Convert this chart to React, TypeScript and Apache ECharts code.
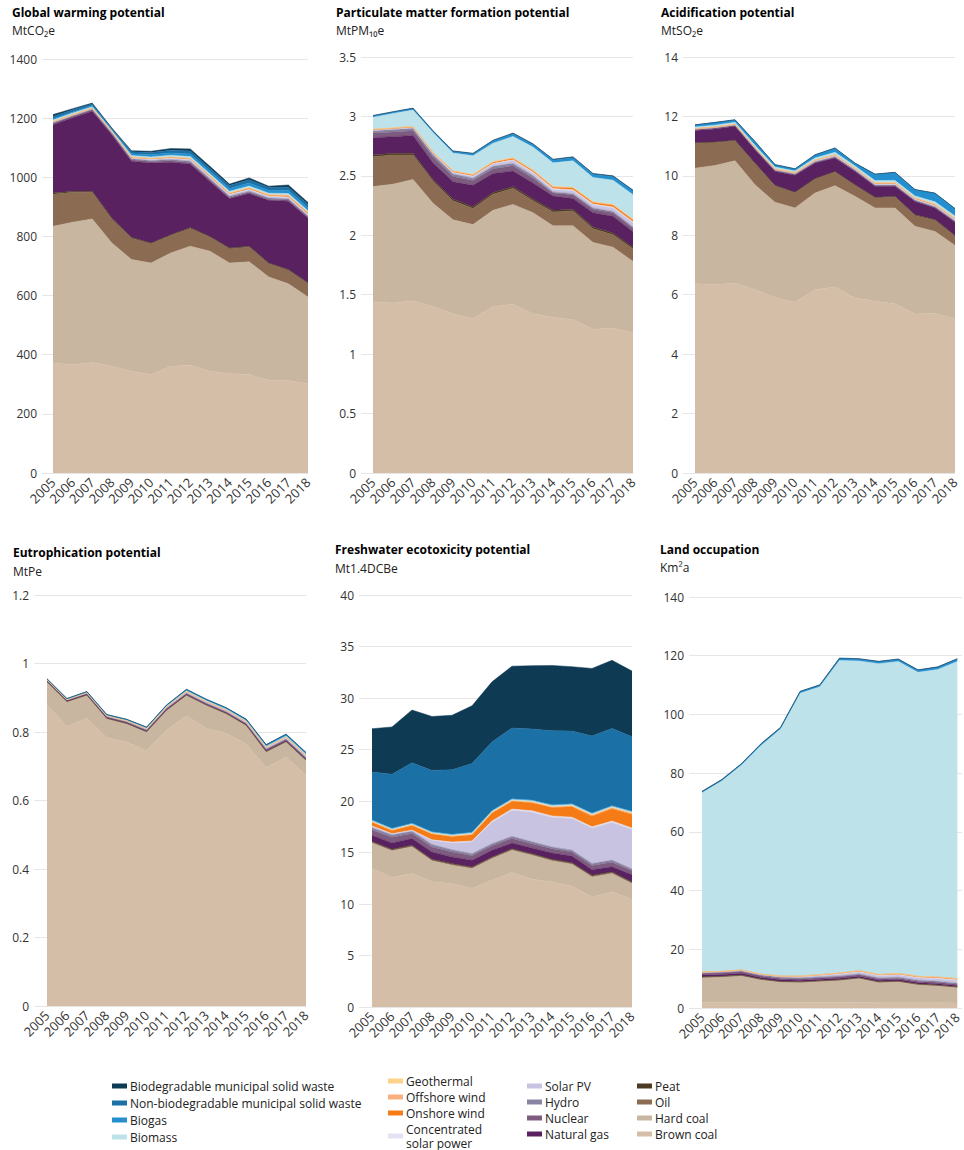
import React, { useEffect, useRef } from "react";
import * as echarts from "echarts";

const years = ["2005","2006","2007","2008","2009","2010","2011","2012","2013","2014","2015","2016","2017","2018"];

const sourceNames = ["Brown coal","Hard coal","Oil","Peat","Natural gas","Nuclear","Hydro","Solar PV","Concentrated solar power","Onshore wind","Offshore wind","Geothermal","Biomass","Biogas","Non-biodegradable municipal solid waste","Biodegradable municipal solid waste"];
const sourceColors = ["#d5bea8","#c9b6a1","#8b6c52","#4d3a22","#5a2161","#7d5c80","#8a84a3","#c8c3e0","#e4e1f0","#f47b16","#f8b07e","#fbd48a","#bde2ea","#238fcf","#1b70a6","#0e3a54"];

// Global warming potential (MtCO2e)
const gwpBrownCoal = [372,366,374,361,344,333,361,364,344,336,333,313,313,302];
const gwpHardCoal = [462,482,485,417,378,377,383,403,406,374,381,350,327,293];
const gwpOil = [109,101,90,80,72,65,59,60,47,48,50,45,46,46];
const gwpPeat = [4,4,4,4,3,3,3,3,3,3,3,2,2,2];
const gwpGas = [231,248,270,282,257,270,245,215,186,167,178,212,231,219];
const gwpNuclear = [5,5,5,4,5,5,5,5,5,4,4,4,4,4];
const gwpHydro = [3,3,3,3,4,4,4,4,4,4,4,4,4,3];
const gwpSolarPV = [0.5,0.7,1,1.5,2,3,4,5,5,5,5,5,5,5];
const gwpCSP = [0.1,0.1,0.2,0.3,0.5,0.8,1,1.2,1.3,1.3,1.3,1.3,1.3,1.3];
const gwpOnshore = [1.5,1.6,1.8,1.8,2,2.2,2.5,2.8,3,3,3.5,3.3,3.8,3.8];
const gwpOffshore = [0.1,0.1,0.1,0.2,0.3,0.4,0.5,0.6,0.8,1,1.2,1.3,1.5,1.6];
const gwpGeothermal = [0.5,0.5,0.5,0.5,0.5,0.5,0.5,0.5,0.5,0.5,0.5,0.5,0.5,0.5];
const gwpBiomass = [5,5,4,2.5,5,5,6,6,6,6,6,5,6,6];
const gwpBiogas = [4,4,4,3.5,6,7,8,9,9,9,10,9,10,10];
const gwpNonBioMSW = [8,7,6,3,7,8,9,10,10,10,11,10,11,11];
const gwpBioMSW = [6.3,4,2.4,2.7,3.7,4.1,5.5,6.9,6.4,5.2,6.5,4.6,7.9,6.8];

// Particulate matter formation potential (MtPM10e)
const pmBrownCoal = [1.44,1.43,1.45,1.40,1.34,1.30,1.40,1.42,1.34,1.31,1.29,1.21,1.22,1.18];
const pmHardCoal = [0.97,1.00,1.02,0.87,0.79,0.79,0.81,0.84,0.85,0.77,0.79,0.73,0.68,0.60];
const pmOil = [0.25,0.245,0.205,0.185,0.16,0.135,0.135,0.135,0.10,0.115,0.125,0.115,0.105,0.105];
const pmPeat = [0.015,0.015,0.015,0.015,0.015,0.015,0.015,0.015,0.015,0.015,0.015,0.015,0.015,0.015];
const pmGas = [0.145,0.14,0.15,0.14,0.145,0.18,0.16,0.13,0.135,0.12,0.09,0.12,0.14,0.13];
const pmNuclear = [0.04,0.04,0.04,0.05,0.045,0.04,0.04,0.045,0.04,0.025,0.03,0.03,0.03,0.03];
const pmHydro = [0.02,0.02,0.02,0.02,0.02,0.02,0.02,0.02,0.02,0.01,0.01,0.01,0.01,0.01];
const pmSolarPV = [0.003,0.004,0.005,0.008,0.012,0.015,0.02,0.025,0.025,0.02,0.025,0.025,0.03,0.035];
const pmCSP = [0.001,0.001,0.001,0.002,0.003,0.004,0.005,0.006,0.007,0.008,0.008,0.008,0.008,0.008];
const pmOnshore = [0.005,0.006,0.007,0.007,0.008,0.009,0.01,0.011,0.012,0.012,0.014,0.013,0.015,0.015];
const pmOffshore = [0.001,0.001,0.001,0.002,0.002,0.003,0.003,0.004,0.004,0.005,0.005,0.005,0.006,0.006];
const pmGeothermal = [0.002,0.002,0.002,0.002,0.002,0.002,0.002,0.002,0.002,0.002,0.002,0.002,0.002,0.002];
const pmBiomass = [0.102,0.121,0.138,0.164,0.15,0.157,0.155,0.179,0.192,0.198,0.223,0.204,0.203,0.206];
const pmBiogas = [0.008,0.009,0.01,0.01,0.012,0.014,0.017,0.02,0.02,0.022,0.025,0.025,0.028,0.03];
const pmNonBioMSW = [0.004,0.004,0.004,0.003,0.004,0.004,0.005,0.005,0.005,0.005,0.005,0.005,0.005,0.005];
const pmBioMSW = [0.002,0.002,0.002,0.002,0.002,0.002,0.003,0.003,0.003,0.003,0.003,0.003,0.003,0.003];

// Acidification potential (MtSO2e)
const apBrownCoal = [6.37,6.34,6.39,6.17,5.91,5.75,6.17,6.26,5.89,5.78,5.70,5.35,5.38,5.18];
const apHardCoal = [3.89,4.01,4.12,3.53,3.20,3.17,3.25,3.41,3.42,3.14,3.22,2.95,2.75,2.48];
const apOil = [0.83,0.77,0.67,0.71,0.55,0.51,0.47,0.46,0.37,0.34,0.37,0.37,0.38,0.31];
const apPeat = [0.02,0.02,0.02,0.02,0.02,0.02,0.02,0.02,0.02,0.02,0.02,0.02,0.02,0.02];
const apGas = [0.42,0.44,0.47,0.45,0.47,0.57,0.52,0.45,0.45,0.37,0.34,0.45,0.39,0.45];
const apNuclear = [0.03,0.03,0.03,0.03,0.03,0.03,0.03,0.03,0.03,0.025,0.025,0.025,0.025,0.025];
const apHydro = [0.015,0.015,0.015,0.015,0.015,0.015,0.015,0.015,0.015,0.015,0.015,0.015,0.015,0.015];
const apSolarPV = [0.003,0.004,0.006,0.01,0.015,0.02,0.025,0.03,0.03,0.03,0.03,0.03,0.035,0.04];
const apCSP = [0.001,0.001,0.002,0.003,0.005,0.006,0.008,0.009,0.01,0.01,0.01,0.01,0.01,0.01];
const apOnshore = [0.01,0.011,0.012,0.012,0.013,0.015,0.017,0.02,0.02,0.02,0.025,0.023,0.027,0.027];
const apOffshore = [0.001,0.001,0.001,0.002,0.002,0.003,0.003,0.004,0.005,0.006,0.007,0.008,0.009,0.01];
const apGeothermal = [0.005,0.005,0.005,0.005,0.005,0.005,0.005,0.005,0.005,0.005,0.005,0.005,0.005,0.005];
const apBiomass = [0.05,0.06,0.06,0.07,0.06,0.05,0.07,0.08,0.07,0.08,0.08,0.07,0.08,0.08];
const apBiogas = [0.06,0.078,0.074,0.118,0.07,0.06,0.092,0.132,0.08,0.204,0.258,0.199,0.279,0.233];
const apNonBioMSW = [0.01,0.01,0.01,0.01,0.01,0.01,0.01,0.01,0.01,0.01,0.01,0.01,0.01,0.01];
const apBioMSW = [0.005,0.005,0.005,0.005,0.005,0.005,0.005,0.005,0.005,0.005,0.005,0.005,0.005,0.005];

// Eutrophication potential (MtPe)
const epBrownCoal = [0.879,0.816,0.840,0.783,0.771,0.745,0.806,0.847,0.811,0.796,0.765,0.696,0.726,0.674];
const epHardCoal = [0.067,0.072,0.067,0.056,0.053,0.055,0.057,0.06,0.067,0.057,0.054,0.046,0.045,0.043];
const epOil = [0.001,0.001,0.001,0.001,0.001,0.001,0.001,0.001,0.001,0.001,0.001,0.001,0.001,0.001];
const epPeat = [0.0003,0.0003,0.0003,0.0003,0.0003,0.0003,0.0003,0.0003,0.0003,0.0003,0.0003,0.0003,0.0003,0.0003];
const epGas = [0.002,0.002,0.002,0.002,0.002,0.002,0.002,0.002,0.002,0.002,0.002,0.003,0.003,0.003];
const epNuclear = [0.0015,0.0015,0.002,0.002,0.002,0.002,0.002,0.002,0.002,0.002,0.002,0.003,0.003,0.003];
const epHydro = [0.001,0.001,0.001,0.001,0.001,0.001,0.001,0.001,0.001,0.001,0.001,0.001,0.001,0.001];
const epSolarPV = [0.0003,0.0004,0.0006,0.001,0.0015,0.002,0.0025,0.003,0.003,0.003,0.003,0.003,0.0035,0.004];
const epCSP = [0.0001,0.0001,0.0002,0.0003,0.0004,0.0005,0.0006,0.0007,0.0008,0.0008,0.0008,0.0008,0.0008,0.0008];
const epOnshore = [0.0005,0.0005,0.0006,0.0006,0.0007,0.0008,0.0009,0.001,0.001,0.001,0.0012,0.0012,0.0014,0.0014];
const epOffshore = [0.0001,0.0001,0.0001,0.0001,0.0002,0.0002,0.0002,0.0003,0.0003,0.0004,0.0004,0.0005,0.0005,0.0006];
const epGeothermal = [0.0002,0.0002,0.0002,0.0002,0.0002,0.0002,0.0002,0.0002,0.0002,0.0002,0.0002,0.0002,0.0002,0.0002];
const epBiomass = [0.0008,0.0008,0.001,0.0012,0.0012,0.0012,0.0015,0.002,0.002,0.002,0.002,0.002,0.0025,0.0025];
const epBiogas = [0.0006,0.0008,0.001,0.0012,0.0015,0.002,0.0025,0.003,0.003,0.003,0.0035,0.004,0.0045,0.0045];
const epNonBioMSW = [0.0008,0.0008,0.0008,0.0008,0.0008,0.0008,0.0008,0.0008,0.0008,0.0008,0.0008,0.0008,0.0008,0.0008];
const epBioMSW = [0.0004,0.0004,0.0004,0.0004,0.0004,0.0004,0.0004,0.0004,0.0004,0.0004,0.0004,0.0004,0.0004,0.0004];

// Freshwater ecotoxicity potential (Mt1.4DCBe)
const feBrownCoal = [13.44,12.57,12.96,12.15,11.98,11.50,12.31,13.05,12.40,12.15,11.72,10.69,11.17,10.46];
const feHardCoal = [2.49,2.59,2.59,2.04,1.79,1.94,2.10,2.17,2.34,2.04,2.14,1.94,1.79,1.52];
const feOil = [0.1,0.1,0.1,0.1,0.1,0.1,0.1,0.1,0.1,0.1,0.1,0.1,0.1,0.1];
const fePeat = [0.05,0.05,0.05,0.05,0.05,0.05,0.05,0.05,0.05,0.05,0.05,0.05,0.05,0.05];
const feGas = [0.6,0.62,0.65,0.7,0.65,0.65,0.65,0.55,0.55,0.6,0.65,0.55,0.5,0.7];
const feNuclear = [0.5,0.55,0.5,0.5,0.48,0.45,0.45,0.45,0.42,0.42,0.4,0.42,0.45,0.4];
const feHydro = [0.22,0.24,0.22,0.24,0.22,0.2,0.2,0.2,0.18,0.18,0.17,0.18,0.2,0.18];
const feSolarPV = [0.15,0.08,0.07,0.4,0.66,1.13,2.08,2.52,2.87,2.87,3.06,3.42,3.65,3.82];
const feCSP = [0.02,0.02,0.03,0.05,0.08,0.1,0.12,0.13,0.14,0.14,0.14,0.14,0.14,0.14];
const feOnshore = [0.39,0.33,0.48,0.58,0.55,0.61,0.78,0.75,0.78,0.81,1.01,1.04,1.19,1.32];
const feOffshore = [0.01,0.01,0.01,0.02,0.03,0.04,0.05,0.06,0.07,0.08,0.1,0.11,0.12,0.13];
const feGeothermal = [0.02,0.02,0.02,0.02,0.02,0.02,0.02,0.02,0.02,0.02,0.02,0.02,0.02,0.02];
const feBiomass = [0.12,0.12,0.12,0.12,0.12,0.12,0.12,0.12,0.12,0.12,0.12,0.12,0.12,0.12];
const feBiogas = [0.05,0.05,0.05,0.05,0.05,0.05,0.05,0.05,0.05,0.05,0.05,0.05,0.05,0.05];
const feNonBioMSW = [4.65,5.24,5.86,5.95,6.26,6.67,6.66,6.87,6.90,7.18,7.06,7.47,7.50,7.23];
const feBioMSW = [4.21,4.60,5.12,5.24,5.28,5.61,5.83,6.0,6.15,6.35,6.25,6.57,6.61,6.38];

// Land occupation (Km2a)
const loBrownCoal = [2.0,2.0,2.0,1.9,1.9,1.9,1.9,1.9,1.9,1.8,1.8,1.8,1.8,1.7];
const loHardCoal = [8.4,8.6,9.0,7.75,6.96,6.84,7.18,7.52,8.2,6.94,7.17,6.15,5.8,5.3];
const loOil = [0.1,0.1,0.1,0.1,0.1,0.1,0.1,0.1,0.1,0.1,0.1,0.1,0.1,0.1];
const loPeat = [0.1,0.1,0.1,0.1,0.1,0.1,0.1,0.1,0.1,0.1,0.1,0.1,0.1,0.1];
const loGas = [0.6,0.6,0.6,0.55,0.55,0.5,0.5,0.5,0.5,0.5,0.5,0.5,0.5,0.45];
const loNuclear = [0.6,0.6,0.6,0.55,0.55,0.55,0.5,0.5,0.5,0.5,0.5,0.5,0.5,0.45];
const loHydro = [0.3,0.3,0.3,0.3,0.3,0.3,0.3,0.3,0.3,0.3,0.3,0.3,0.3,0.3];
const loSolarPV = [0.05,0.06,0.08,0.12,0.2,0.3,0.45,0.6,0.7,0.75,0.8,0.85,0.9,1.0];
const loCSP = [0.01,0.01,0.02,0.03,0.05,0.08,0.1,0.12,0.14,0.15,0.16,0.17,0.18,0.2];
const loOnshore = [0.1,0.1,0.12,0.13,0.14,0.15,0.17,0.2,0.22,0.22,0.25,0.25,0.28,0.3];
const loOffshore = [0,0,0,0.01,0.01,0.02,0.03,0.04,0.05,0.06,0.07,0.08,0.09,0.1];
const loGeothermal = [0.02,0.02,0.02,0.02,0.02,0.02,0.02,0.02,0.02,0.02,0.02,0.02,0.02,0.02];
const loBiomass = [61.02,64.81,69.71,77.84,84.12,96.39,98.05,106.5,105.47,105.86,106.28,103.53,104.73,108.03];
const loBiogas = [0.3,0.3,0.35,0.4,0.4,0.45,0.5,0.6,0.6,0.6,0.65,0.65,0.7,0.75];
const loNonBioMSW = [0.1,0.1,0.1,0.1,0.1,0.1,0.1,0.1,0.1,0.1,0.1,0.1,0.1,0.1];
const loBioMSW = [0.1,0.1,0.1,0.1,0.1,0.1,0.1,0.1,0.1,0.1,0.1,0.1,0.1,0.1];

const gwpLayers = [gwpBrownCoal,gwpHardCoal,gwpOil,gwpPeat,gwpGas,gwpNuclear,gwpHydro,gwpSolarPV,gwpCSP,gwpOnshore,gwpOffshore,gwpGeothermal,gwpBiomass,gwpBiogas,gwpNonBioMSW,gwpBioMSW];
const pmLayers = [pmBrownCoal,pmHardCoal,pmOil,pmPeat,pmGas,pmNuclear,pmHydro,pmSolarPV,pmCSP,pmOnshore,pmOffshore,pmGeothermal,pmBiomass,pmBiogas,pmNonBioMSW,pmBioMSW];
const apLayers = [apBrownCoal,apHardCoal,apOil,apPeat,apGas,apNuclear,apHydro,apSolarPV,apCSP,apOnshore,apOffshore,apGeothermal,apBiomass,apBiogas,apNonBioMSW,apBioMSW];
const epLayers = [epBrownCoal,epHardCoal,epOil,epPeat,epGas,epNuclear,epHydro,epSolarPV,epCSP,epOnshore,epOffshore,epGeothermal,epBiomass,epBiogas,epNonBioMSW,epBioMSW];
const feLayers = [feBrownCoal,feHardCoal,feOil,fePeat,feGas,feNuclear,feHydro,feSolarPV,feCSP,feOnshore,feOffshore,feGeothermal,feBiomass,feBiogas,feNonBioMSW,feBioMSW];
const loLayers = [loBrownCoal,loHardCoal,loOil,loPeat,loGas,loNuclear,loHydro,loSolarPV,loCSP,loOnshore,loOffshore,loGeothermal,loBiomass,loBiogas,loNonBioMSW,loBioMSW];

const FONT = '"Open Sans", "Noto Sans", sans-serif';

const panels = [
  { title: "Global warming potential", unit: "MtCO₂e", tx: 12, ty: 14, uy: 32, gl: 42, dl: 53, gr: 308, top: 59, bottom: 473, max: 1400, interval: 200, layers: gwpLayers },
  { title: "Particulate matter formation potential", unit: "MtPM₁₀e", tx: 336, ty: 14, uy: 32, gl: 361, dl: 373, gr: 633, top: 57, bottom: 473, max: 3.5, interval: 0.5, layers: pmLayers },
  { title: "Acidification potential", unit: "MtSO₂e", tx: 661, ty: 14, uy: 32, gl: 683, dl: 695, gr: 955, top: 57, bottom: 473, max: 14, interval: 2, layers: apLayers },
  { title: "Eutrophication potential", unit: "MtPe", tx: 13, ty: 554, uy: 573, gl: 34, dl: 47, gr: 306, top: 595, bottom: 1006, max: 1.2, interval: 0.2, layers: epLayers },
  { title: "Freshwater ecotoxicity potential", unit: "Mt1.4DCBe", tx: 335, ty: 551, uy: 570, gl: 359, dl: 372, gr: 632, top: 595, bottom: 1007, max: 40, interval: 5, layers: feLayers },
  { title: "Land occupation", unit: "Km²a", tx: 660, ty: 551, uy: 569, gl: 689, dl: 702, gr: 962, top: 597, bottom: 1008, max: 140, interval: 20, layers: loLayers },
];

const legendColumns = [
  { left: 112, top: 1079, gap: 3, names: ["Biodegradable municipal solid waste", "Non-biodegradable municipal solid waste", "Biogas", "Biomass"] },
  { left: 388, top: 1074, gap: 2, names: ["Geothermal", "Offshore wind", "Onshore wind", "Concentrated solar power"] },
  { left: 527, top: 1079, gap: 2, names: ["Solar PV", "Hydro", "Nuclear", "Natural gas"] },
  { left: 637, top: 1079, gap: 2, names: ["Peat", "Oil", "Hard coal", "Brown coal"] },
];

export default function App() {
  const ref = useRef<HTMLDivElement>(null);
  useEffect(() => {
    if (!ref.current) return;
    const chart = echarts.init(ref.current, null, { renderer: "svg" });
    const grid: any[] = [];
    const xAxis: any[] = [];
    const yAxis: any[] = [];
    const series: any[] = [];
    const graphic: any[] = [];
    panels.forEach((p, i) => {
      grid.push({ left: p.gl, top: p.top, width: p.gr - p.gl, height: p.bottom - p.top, containLabel: false });
      grid.push({ left: p.dl, top: p.top, width: p.gr - p.dl, height: p.bottom - p.top, containLabel: false });
      xAxis.push({ type: "value", gridIndex: 2 * i, show: false, min: 0, max: 1 });
      xAxis.push({
        type: "category", gridIndex: 2 * i + 1, data: years, boundaryGap: false,
        axisLine: { show: false }, axisTick: { show: false }, splitLine: { show: false },
        axisLabel: { rotate: 45, fontSize: 13, color: "#333", fontFamily: FONT, margin: 7, interval: 0 },
      });
      yAxis.push({
        type: "value", gridIndex: 2 * i, min: 0, max: p.max, interval: p.interval,
        axisLine: { show: false }, axisTick: { show: false },
        axisLabel: { fontSize: 12, color: "#333", fontFamily: FONT, margin: 5, formatter: (v: number) => String(v) },
        splitLine: { show: true, lineStyle: { color: "#e6e6e6", width: 1 } },
      });
      yAxis.push({ type: "value", gridIndex: 2 * i + 1, min: 0, max: p.max, show: false, splitLine: { show: false } });
      p.layers.forEach((arr, s) => {
        series.push({
          name: sourceNames[s], type: "line", xAxisIndex: 2 * i + 1, yAxisIndex: 2 * i + 1,
          stack: "panel" + i, data: arr, symbol: "none", showSymbol: false, smooth: false,
          itemStyle: { color: sourceColors[s] },
          lineStyle: { width: 0.5, color: sourceColors[s] },
          areaStyle: { color: sourceColors[s], opacity: 1 },
          emphasis: { disabled: true },
        });
      });
      graphic.push({ type: "text", left: p.tx, top: p.ty - 8, style: { text: p.title, fontSize: 12, fontWeight: "bold", fontFamily: FONT, fill: "#000" } });
      graphic.push({ type: "text", left: p.tx, top: p.uy - 8, style: { text: p.unit, fontSize: 12, fontFamily: FONT, fill: "#222" } });
    });
    const legend = legendColumns.map((c) => ({
      data: c.names, left: c.left, top: c.top, height: 120, orient: "vertical", icon: "rect",
      itemWidth: 15, itemHeight: 5, itemGap: c.gap, padding: 0, selectedMode: false,
      textStyle: { fontSize: 12, lineHeight: 14, color: "#222", fontFamily: FONT, padding: [0, 0, 0, -2] },
      formatter: (name: string) => (name === "Concentrated solar power" ? "Concentrated\nsolar power" : name),
    }));
    chart.setOption({
      animation: false,
      backgroundColor: "#fff",
      grid, xAxis, yAxis, series, legend, graphic,
    });
    return () => chart.dispose();
  }, []);
  return <div ref={ref} style={{ position: "absolute", left: 0, top: 0, width: 964, height: 1150 }} />;
}
